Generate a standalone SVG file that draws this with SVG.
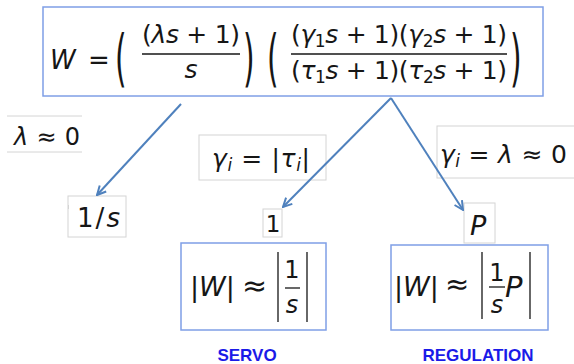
<svg xmlns="http://www.w3.org/2000/svg" width="574" height="364" viewBox="0 0 574 364">
<defs>
<style>
.m{font-family:"DejaVu Sans","Liberation Sans",sans-serif;fill:#161616;}
.i{font-style:italic;}
.f25{font-size:25px;}
.f24{font-size:24px;}
.f27{font-size:27px;}
.f29{font-size:29px;}
.sub{font-size:17px;}
.bbox{fill:#fff;stroke:#7f9fe6;stroke-width:1.5;}
.gbox{fill:none;stroke:#d4d4d4;stroke-width:1;}
.bar{stroke:#161616;stroke-width:1.3;}
.conn{stroke:#4f81bd;stroke-width:2;fill:none;marker-end:url(#ah);}
.cap{font-family:"Liberation Sans",Arial,sans-serif;font-weight:bold;font-size:17px;fill:#1a1ae8;text-anchor:middle;}
</style>
<marker id="ah" viewBox="0 0 10 10" refX="9" refY="5" markerWidth="11" markerHeight="11" markerUnits="userSpaceOnUse" orient="auto">
<path d="M1,1 L9,5 L1,9" fill="none" stroke="#4f81bd" stroke-width="1.8"/>
</marker>
</defs>
<rect width="574" height="364" fill="#fff"/>

<g id="formula">
<rect class="bbox" x="43" y="7" width="500" height="89"/>
<text class="m i" x="50" y="69" font-size="26">W</text>
<text class="m" x="88" y="69" font-size="26">=</text>
<text class="m" font-size="22" transform="translate(115,79) scale(1.35,2.8)">(</text>
<text class="m f25" x="142" y="43" textLength="98" lengthAdjust="spacing">(<tspan class="i">λs</tspan> + 1)</text>
<line class="bar" x1="142" y1="54" x2="240" y2="54"/>
<text class="m f25 i" x="191" y="78" text-anchor="middle">s</text>
<text class="m" font-size="22" transform="translate(243,79) scale(1.35,2.8)">)</text>
<text class="m" font-size="22" transform="translate(267,79) scale(1.35,2.8)">(</text>
<text class="m f25" x="291" y="43" textLength="216" lengthAdjust="spacing">(<tspan class="i">γ</tspan><tspan class="sub" dy="4">1</tspan><tspan class="i" dy="-4">s</tspan> + 1)(<tspan class="i">γ</tspan><tspan class="sub" dy="4">2</tspan><tspan class="i" dy="-4">s</tspan> + 1)</text>
<line class="bar" x1="291" y1="54" x2="507" y2="54"/>
<text class="m f25" x="291" y="79" textLength="216" lengthAdjust="spacing">(<tspan class="i">τ</tspan><tspan class="sub" dy="4">1</tspan><tspan class="i" dy="-4">s</tspan> + 1)(<tspan class="i">τ</tspan><tspan class="sub" dy="4">2</tspan><tspan class="i" dy="-4">s</tspan> + 1)</text>
<text class="m" font-size="22" transform="translate(510,79) scale(1.35,2.8)">)</text>
</g>

<g id="label-lambda">
<line class="gbox" x1="7" y1="116" x2="82" y2="116"/>
<line class="gbox" x1="7" y1="152" x2="82" y2="152"/>
<text class="m" font-size="24" x="14" y="145" textLength="66" lengthAdjust="spacing"><tspan class="i">λ</tspan> ≈ 0</text>
</g>

<g id="label-gamma-tau">
<rect class="gbox" x="199" y="135" width="127" height="45"/>
<text class="m f25" x="212" y="167" textLength="98" lengthAdjust="spacing"><tspan class="i">γ</tspan><tspan class="i sub" dy="4">i</tspan><tspan dy="-4"> = |</tspan><tspan class="i">τ</tspan><tspan class="i sub" dy="4">i</tspan><tspan dy="-4">|</tspan></text>
</g>

<g id="label-gamma-lambda">
<rect class="gbox" x="437" y="126" width="150" height="52"/>
<text class="m f25" x="440" y="163" textLength="127" lengthAdjust="spacing"><tspan class="i">γ</tspan><tspan class="i sub" dy="4">i</tspan><tspan dy="-4"> = </tspan><tspan class="i">λ</tspan> ≈ 0</text>
</g>

<g id="node-1s">
<rect class="gbox" x="68" y="196" width="58" height="41"/>
<line class="gbox" x1="68.5" y1="205" x2="68.5" y2="209" stroke="#999"/>
<text class="m" font-size="26" x="77" y="227" textLength="43" lengthAdjust="spacing">1/<tspan class="i">s</tspan></text>
</g>

<g id="node-1">
<rect class="gbox" x="263" y="209" width="19" height="28"/>
<text class="m" font-size="23" x="273" y="232" text-anchor="middle">1</text>
</g>

<g id="node-P">
<rect class="gbox" x="464" y="203" width="31" height="40"/>
<text class="m i" font-size="27" x="470" y="235">P</text>
</g>

<g id="servo">
<rect class="bbox" x="181" y="243" width="145" height="87"/>
<text class="m f27" x="190" y="296">|<tspan class="i">W</tspan>|</text>
<text class="m" font-size="30" x="242" y="296">≈</text>
<line class="bar" x1="278" y1="252" x2="278" y2="322"/>
<text class="m f24" x="292" y="278" text-anchor="middle">1</text>
<line class="bar" x1="285" y1="288" x2="300" y2="288"/>
<text class="m f24 i" x="292" y="313" text-anchor="middle">s</text>
<line class="bar" x1="307" y1="252" x2="307" y2="322"/>
</g>

<g id="regulation">
<rect class="bbox" x="391" y="245" width="157" height="85"/>
<text class="m f27" x="394" y="296">|<tspan class="i">W</tspan>|</text>
<text class="m" font-size="29" x="445" y="294">≈</text>
<line class="bar" x1="482" y1="252" x2="482" y2="319"/>
<text class="m f24" x="497" y="281" text-anchor="middle">1</text>
<line class="bar" x1="489" y1="287" x2="505" y2="287"/>
<text class="m f24 i" x="497" y="313" text-anchor="middle">s</text>
<text class="m f29 i" x="505" y="297">P</text>
<line class="bar" x1="530" y1="252" x2="530" y2="319"/>
</g>

<g id="captions">
<text class="cap" x="247" y="361">SERVO</text>
<text class="cap" x="478" y="361">REGULATION</text>
</g>

<g id="connectors">
<line class="conn" x1="181" y1="104" x2="97" y2="195"/>
<line class="conn" x1="391" y1="98" x2="283" y2="207"/>
<line class="conn" x1="391" y1="98" x2="463" y2="210"/>
</g>
</svg>
